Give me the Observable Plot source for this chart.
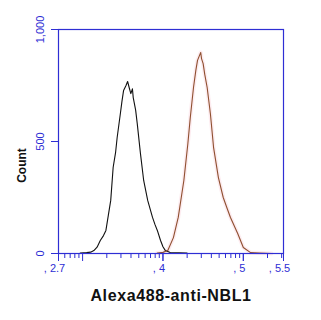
<!DOCTYPE html>
<html>
<head>
<meta charset="utf-8">
<script src="https://cdn.jsdelivr.net/npm/d3@7"></script>
<script src="https://cdn.jsdelivr.net/npm/@observablehq/plot@0.6"></script>
<style>
  body { margin: 0; background: #fff; }
  svg { font-family: "Liberation Sans", Arial, sans-serif; }
</style>
</head>
<body>
<div id="chart"></div>
<script>
// Log10 fluorescence (exponent) and counts
const isotypeX = [2.97, 3.05, 3.10, 3.14, 3.18, 3.22, 3.26, 3.29, 3.32, 3.35, 3.38, 3.41, 3.43, 3.47, 3.49, 3.51, 3.54, 3.56, 3.58, 3.60, 3.62, 3.63, 3.66, 3.68, 3.72, 3.76, 3.81, 3.87, 3.90, 3.93, 3.97, 4.00, 4.03, 4.09, 4.20, 4.30];
const isotypeY = [2, 4, 6, 13, 28, 58, 80, 103, 170, 237, 384, 450, 518, 625, 680, 728, 750, 768, 740, 714, 735, 696, 640, 580, 446, 326, 237, 161, 130, 103, 58, 30, 13, 4, 3, 2];

const stainedX = [3.93, 4.00, 4.06, 4.13, 4.19, 4.26, 4.31, 4.34, 4.38, 4.41, 4.43, 4.45, 4.47, 4.48, 4.50, 4.52, 4.55, 4.59, 4.63, 4.69, 4.75, 4.80, 4.84, 4.93, 5.00, 5.09, 5.20, 5.35];
const stainedY = [2, 5, 13, 71, 161, 326, 491, 607, 741, 820, 862, 880, 897, 870, 848, 800, 741, 625, 473, 339, 250, 200, 161, 89, 27, 4, 2, 0];

const xLabelTicks = [2.7, 4, 5, 5.5];
const xLabelText = [", 2.7", ", 4", ", 5", ", 5.5"];
const xMinorValues = [600, 700, 800, 900, 2000, 3000, 4000, 5000, 6000, 7000, 8000, 9000, 20000, 30000, 40000, 50000, 60000, 70000, 80000, 90000, 200000, 300000];
const xMajorValues = [1000, 10000, 100000];
const yTicks = [0, 500, 1000];
const xTitle = "Alexa488-anti-NBL1";
const yTitle = "Count";

const blue = "#2e2ed4";
const isotype = isotypeX.map((x, i) => ({x, y: isotypeY[i]}));
const stained = stainedX.map((x, i) => ({x, y: stainedY[i]}));
const xMinor = xMinorValues.map(v => Math.log10(v));
const xMajor = xMajorValues.map(v => Math.log10(v)).concat(xLabelTicks);

const chart = Plot.plot({
  width: 321,
  height: 320,
  marginLeft: 58,
  marginRight: 38,
  marginTop: 29,
  marginBottom: 67,
  x: {domain: [2.7, 5.5], label: null},
  y: {domain: [0, 1000], label: null},
  marks: [
    Plot.line(stained, {x: "x", y: "y", stroke: "#fbd9e2", strokeWidth: 4, strokeOpacity: 0.5}),
    Plot.line(isotype, {x: "x", y: "y", stroke: "#111", strokeWidth: 1.1}),
    Plot.line(stained, {x: "x", y: "y", stroke: "#8f5030", strokeWidth: 1.1}),
    Plot.frame({stroke: blue, strokeWidth: 1.2}),
    Plot.axisX({ticks: xMinor, tickSize: 5, tickFormat: () => "", color: blue, label: null}),
    Plot.axisX({ticks: xMajor, tickSize: 8, tickFormat: () => "", color: blue, label: null}),
    Plot.text(xLabelTicks, {x: d => d, text: (d, i) => xLabelText[i], frameAnchor: "bottom", dy: 15, dx: -4,
      textAnchor: "middle", lineAnchor: "middle", fill: blue, fontSize: 11}),
    Plot.axisY({ticks: yTicks, tickSize: 7, tickFormat: () => "", color: blue, label: null}),
    Plot.text(yTicks, {y: d => d, text: d => d3.format(",")(d), frameAnchor: "left", dx: -18, rotate: -90,
      textAnchor: "middle", lineAnchor: "middle", fill: blue, fontSize: 11}),
    Plot.text([yTitle], {text: d => d, frameAnchor: "left", dx: -36, dy: 24, rotate: -90,
      textAnchor: "middle", lineAnchor: "middle", fill: "#111", fontSize: 12, fontWeight: "bold"}),
    Plot.text([xTitle], {text: d => d, frameAnchor: "bottom", dy: 42,
      textAnchor: "middle", lineAnchor: "middle", fill: "#111", fontSize: 16, fontWeight: "bold"})
  ]
});
d3.select(chart).selectAll("text").filter(function() { return this.textContent === xTitle; })
  .style("letter-spacing", "0.6px");
document.getElementById("chart").appendChild(chart);
</script>
</body>
</html>
